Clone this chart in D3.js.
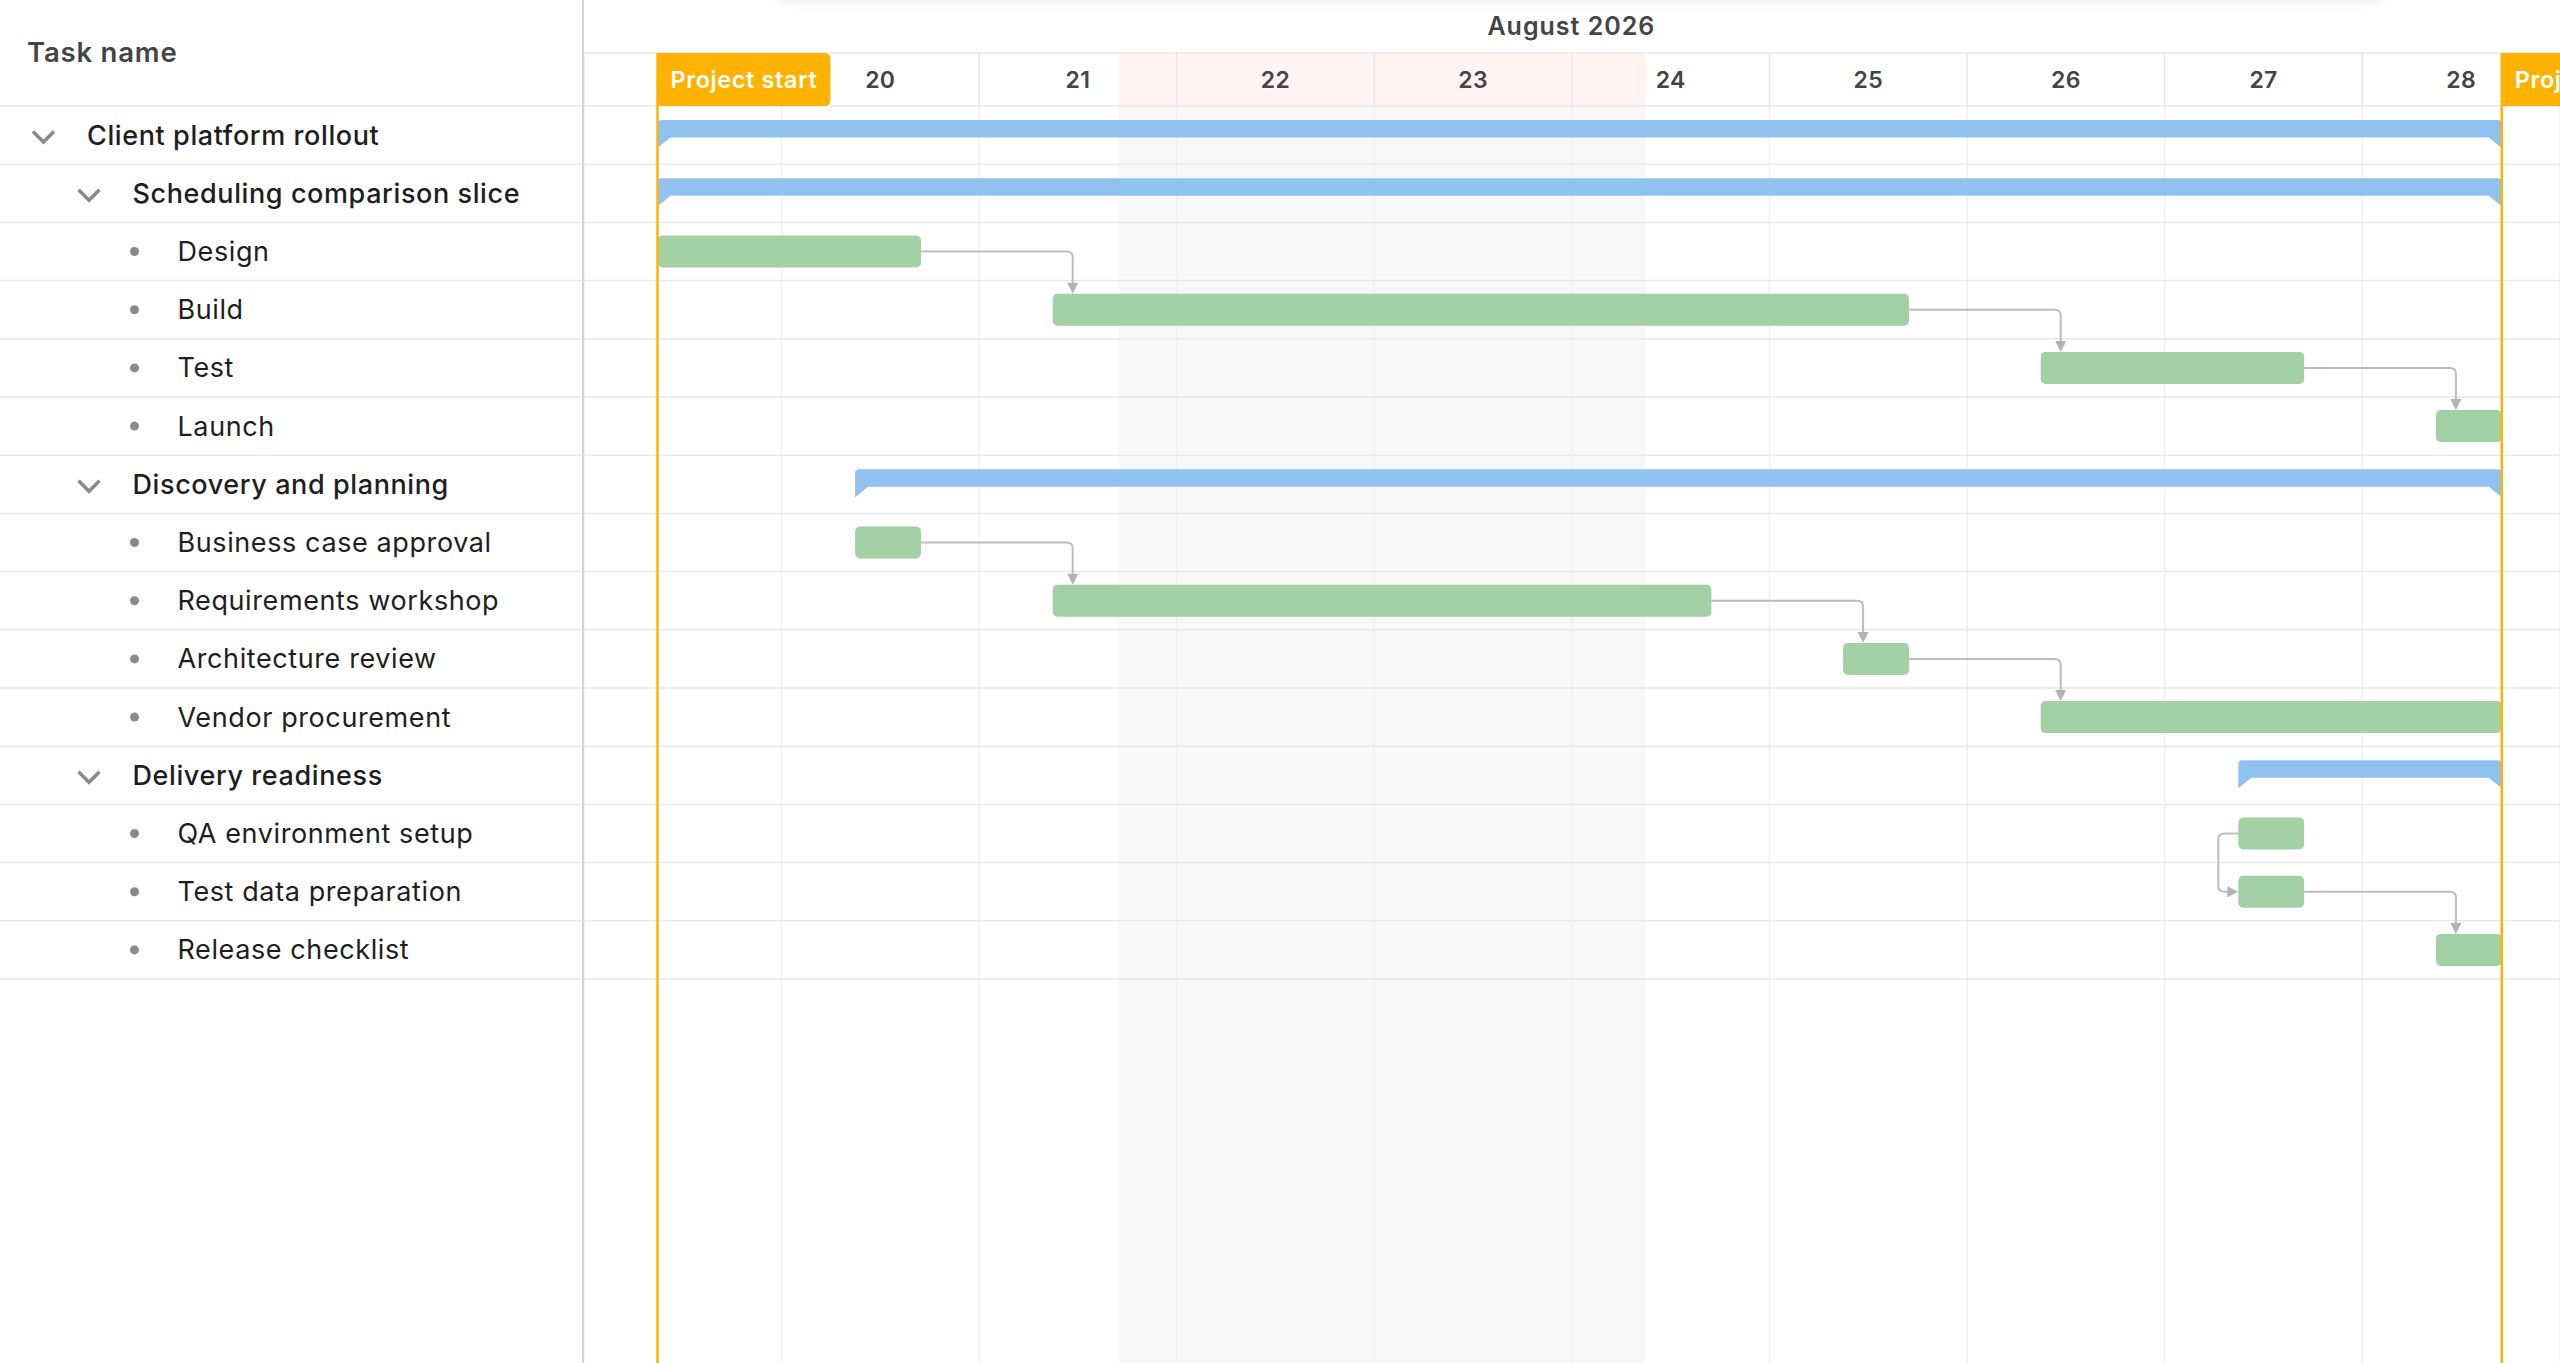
<!DOCTYPE html>
<meta charset="utf-8">
<script src="https://cdn.jsdelivr.net/npm/d3@7"></script>
<style>
  html, body { margin: 0; padding: 0; background: #fff; overflow: hidden; }
  svg { display: block; font-family: "Inter", "Open Sans", sans-serif; }
</style>
<body>
<div id="gantt"></div>
<script>

// rows of the task tree, top to bottom
var taskNames = ["Client platform rollout", "Scheduling comparison slice", "Design", "Build", "Test", "Launch",
  "Discovery and planning", "Business case approval", "Requirements workshop", "Architecture review", "Vendor procurement",
  "Delivery readiness", "QA environment setup", "Test data preparation", "Release checklist"];
var taskLevels = [0, 1, 2, 2, 2, 2, 1, 2, 2, 2, 2, 1, 2, 2, 2];
var taskStarts = ["2026-08-19T09:00", "2026-08-19T09:00", "2026-08-19T09:00", "2026-08-21T09:00", "2026-08-26T09:00", "2026-08-28T09:00",
  "2026-08-20T09:00", "2026-08-20T09:00", "2026-08-21T09:00", "2026-08-25T09:00", "2026-08-26T09:00",
  "2026-08-27T09:00", "2026-08-27T09:00", "2026-08-27T09:00", "2026-08-28T09:00"];
var taskEnds = ["2026-08-28T17:00", "2026-08-28T17:00", "2026-08-20T17:00", "2026-08-25T17:00", "2026-08-27T17:00", "2026-08-28T17:00",
  "2026-08-28T17:00", "2026-08-20T17:00", "2026-08-24T17:00", "2026-08-25T17:00", "2026-08-28T17:00",
  "2026-08-28T17:00", "2026-08-27T17:00", "2026-08-27T17:00", "2026-08-28T17:00"];

// predecessor, successor, type (FS = finish-to-start, SS = start-to-start)
var dependencies = [
  ["Design", "Build", "FS"], ["Build", "Test", "FS"], ["Test", "Launch", "FS"],
  ["Business case approval", "Requirements workshop", "FS"], ["Requirements workshop", "Architecture review", "FS"],
  ["Architecture review", "Vendor procurement", "FS"],
  ["QA environment setup", "Test data preparation", "SS"], ["Test data preparation", "Release checklist", "FS"]];

// visible range, weekend (non working) span, project markers
var viewRange = ["2026-08-19T00:00", "2026-08-29T00:00"];
var nonWorking = [["2026-08-21T17:00", "2026-08-24T09:00"]];
var markerLabels = ["Project start", "Project end"];
var markerDates = ["2026-08-19T09:00", "2026-08-28T17:00"];

var parse = d3.timeParse("%Y-%m-%dT%H:%M");

var W = 2560, H = 1363;
var gridW = 583, monthH = 53, headerH = 106, rowH = 58.2;
var barH = 32;

var tasks = taskNames.map(function(n, i) {
  return {name: n, level: taskLevels[i], start: parse(taskStarts[i]), end: parse(taskEnds[i]),
          summary: taskLevels[i + 1] > taskLevels[i]};
});
var byName = {};
tasks.forEach(function(t) { byName[t.name] = t; });

var svg = d3.select("#gantt").append("svg")
  .attr("width", W)
  .attr("height", H);

// scales
var x = d3.scaleTime()
  .domain(viewRange.map(parse))
  .range([gridW + 0.4, W - 0.6]);
var y = d3.scaleBand()
  .domain(taskNames)
  .range([headerH, headerH + taskNames.length * rowH]);
var dayW = x(d3.timeDay.offset(x.domain()[0], 1)) - x(x.domain()[0]);
function mid(n) { return y(n) + y.bandwidth() / 2; }

// faint shadow along the top edge
var defs = svg.append("defs");
defs.append("filter").attr("id", "topShadow").attr("x", "-10%").attr("y", "-200%").attr("width", "120%").attr("height", "500%")
  .append("feGaussianBlur").attr("stdDeviation", 9);
svg.append("rect")
  .attr("x", 780).attr("y", -34).attr("width", 1600).attr("height", 30)
  .attr("fill", "#000").attr("opacity", 0.16)
  .attr("filter", "url(#topShadow)");

// non working time
var nw = svg.append("g");
nw.selectAll("rect.head").data(nonWorking).enter().append("rect")
  .attr("x", function(d) { return x(parse(d[0])); })
  .attr("width", function(d) { return x(parse(d[1])) - x(parse(d[0])); })
  .attr("y", monthH).attr("height", headerH - monthH)
  .attr("fill", "#fff4f3");
nw.selectAll("rect.body").data(nonWorking).enter().append("rect")
  .attr("x", function(d) { return x(parse(d[0])); })
  .attr("width", function(d) { return x(parse(d[1])) - x(parse(d[0])); })
  .attr("y", headerH).attr("height", H - headerH)
  .attr("fill", "#f8f8f8");

// body day gridlines
var bodyGrid = svg.append("g")
  .attr("transform", "translate(0," + headerH + ")")
  .call(d3.axisBottom(x).ticks(d3.timeDay.every(1)).tickSize(H - headerH).tickFormat(""));
bodyGrid.select(".domain").remove();
bodyGrid.selectAll("line").attr("stroke", "#f0f0f0").attr("stroke-width", 1.5);

// header day row
var firstMarker = parse(markerDates[0]);
var dayAxis = svg.append("g")
  .attr("transform", "translate(0," + monthH + ")")
  .call(d3.axisBottom(x).ticks(d3.timeDay.every(1)).tickSize(headerH - monthH).tickFormat(d3.timeFormat("%-d")));
dayAxis.select(".domain").remove();
dayAxis.selectAll("line").attr("stroke", "#e8e8e8").attr("stroke-width", 1.5);
// the first day label sits under the "Project start" flag, the last tick only closes the range
dayAxis.selectAll(".tick")
  .filter(function(d) { return +d === +d3.timeDay.floor(firstMarker) || +d >= +x.domain()[1]; })
  .select("text").remove();
dayAxis.selectAll("text")
  .attr("x", dayW / 2)
  .attr("y", (headerH - monthH) / 2)
  .attr("dy", "0.36em")
  .attr("fill", "#444")
  .style("font-family", "Inter, sans-serif")
  .style("font-size", "23px")
  .style("font-weight", 600)
  .style("letter-spacing", "0.3px");

// month label
svg.append("text")
  .attr("x", (x.range()[0] + x.range()[1]) / 2)
  .attr("y", 35)
  .attr("text-anchor", "middle")
  .attr("fill", "#444")
  .style("font-size", "25px")
  .style("font-weight", 600)
  .style("letter-spacing", "1px")
  .text(d3.timeFormat("%B %Y")(x.domain()[0]));

// horizontal lines
svg.append("line")
  .attr("x1", gridW).attr("x2", W).attr("y1", monthH).attr("y2", monthH)
  .attr("stroke", "#e8e8e8").attr("stroke-width", 1.5);
var rowLines = d3.range(taskNames.length + 1).map(function(i) { return headerH + i * rowH; });
svg.append("g").selectAll("line").data(rowLines).enter().append("line")
  .attr("x1", 0).attr("x2", W)
  .attr("y1", function(d) { return d; }).attr("y2", function(d) { return d; })
  .attr("stroke", "#e9e9e9").attr("stroke-width", 1.5);

// left grid divider
svg.append("line")
  .attr("x1", gridW).attr("x2", gridW).attr("y1", 0).attr("y2", H)
  .attr("stroke", "#d4d4d4").attr("stroke-width", 2);

// grid header + tree
svg.append("text")
  .attr("x", 27).attr("y", 62)
  .attr("fill", "#444")
  .style("font-size", "27.5px")
  .style("font-weight", 600)
  .style("letter-spacing", "0.8px")
  .text("Task name");

var indent = 45.5;
var rows = svg.append("g").selectAll("g").data(tasks).enter().append("g")
  .attr("transform", function(d) { return "translate(0," + mid(d.name) + ")"; });
rows.filter(function(d) { return d.summary; }).append("path")
  .attr("d", function(d) {
    var cx = 43.5 + d.level * indent;
    return "M" + (cx - 10.5) + ",-3.5L" + cx + ",7L" + (cx + 10.5) + ",-3.5";
  })
  .attr("fill", "none").attr("stroke", "#8a8a8a").attr("stroke-width", 3.5);
rows.filter(function(d) { return !d.summary; }).append("circle")
  .attr("cx", function(d) { return 43.5 + d.level * indent; })
  .attr("r", 4.5)
  .attr("fill", "#8a8a8a");
rows.append("text")
  .attr("x", function(d) { return d.summary ? 87 + d.level * indent : 87 + d.level * indent - 0.5; })
  .attr("y", 9.5)
  .attr("fill", "#1e1e1e")
  .style("font-size", "27px")
  .style("letter-spacing", "0.6px")
  .style("font-weight", function(d) { return d.summary ? 500 : 400; })
  .text(function(d) { return d.name; });

// dependency lines
var r = 6, lead = 20, arrowL = 11, arrowW = 5.5;
var depG = svg.append("g");
dependencies.forEach(function(dep) {
  var a = byName[dep[0]], b = byName[dep[1]];
  var path, arrow, sx, sy, tx, ty;
  if (dep[2] === "FS") {
    sx = x(a.end); sy = mid(a.name);
    tx = x(b.start) + lead; ty = mid(b.name) - barH / 2;
    path = "M" + sx + "," + sy + "H" + (tx - r) + "Q" + tx + "," + sy + " " + tx + "," + (sy + r) + "V" + (ty - arrowL);
    arrow = [[tx - arrowW, ty - arrowL], [tx + arrowW, ty - arrowL], [tx, ty]];
  } else {
    sx = x(a.start); sy = mid(a.name);
    tx = x(b.start); ty = mid(b.name);
    var lx = sx - lead;
    path = "M" + sx + "," + sy + "H" + (lx + r) + "Q" + lx + "," + sy + " " + lx + "," + (sy + r) +
      "V" + (ty - r) + "Q" + lx + "," + ty + " " + (lx + r) + "," + ty + "H" + (tx - arrowL);
    arrow = [[tx - arrowL, ty - arrowW], [tx - arrowL, ty + arrowW], [tx, ty]];
  }
  depG.append("path").attr("d", path)
    .attr("fill", "none").attr("stroke", "#bdbdbd").attr("stroke-width", 2);
  depG.append("polygon").attr("points", arrow.map(function(p) { return p.join(","); }).join(" "))
    .attr("fill", "#b3b3b3");
});

// bars
var bars = svg.append("g");
bars.selectAll("rect").data(tasks.filter(function(d) { return !d.summary; })).enter().append("rect")
  .attr("x", function(d) { return x(d.start); })
  .attr("width", function(d) { return x(d.end) - x(d.start); })
  .attr("y", function(d) { return mid(d.name) - barH / 2; })
  .attr("height", barH)
  .attr("rx", 5)
  .attr("fill", "#a3d0a5");

bars.selectAll("path").data(tasks.filter(function(d) { return d.summary; })).enter().append("path")
  .attr("d", function(d) {
    var x0 = x(d.start), x1 = x(d.end), top = y(d.name) + 14, bot = top + 17.5, tab = top + 28, tw = 13, rr = 4;
    return "M" + x0 + "," + (top + rr) + "Q" + x0 + "," + top + " " + (x0 + rr) + "," + top +
      "H" + (x1 - rr) + "Q" + x1 + "," + top + " " + x1 + "," + (top + rr) +
      "V" + tab + "L" + (x1 - tw) + "," + bot + "H" + (x0 + tw) + "L" + x0 + "," + tab + "Z";
  })
  .attr("fill", "#90c2f0");

// project markers
var markers = svg.append("g").selectAll("g").data(markerLabels).enter().append("g")
  .attr("transform", function(d, i) { return "translate(" + x(parse(markerDates[i])) + ",0)"; });
markers.append("line")
  .attr("y1", monthH).attr("y2", H)
  .attr("stroke", "#ffb300").attr("stroke-width", 2.5);
var labelBg = markers.append("path").attr("fill", "#ffb300");
var labelText = markers.append("text")
  .attr("x", 13).attr("y", (monthH + headerH) / 2)
  .attr("dy", "0.36em")
  .attr("fill", "#fff")
  .style("font-size", "23.5px")
  .style("font-weight", 600)
  .style("letter-spacing", "0.6px")
  .text(function(d) { return d; });
labelBg.attr("d", function(d, i) {
  var w = labelText.nodes()[i].getComputedTextLength() + 26, rr = 6;
  return "M0," + monthH + "H" + (w - rr) + "Q" + w + "," + monthH + " " + w + "," + (monthH + rr) +
    "V" + (headerH - rr) + "Q" + w + "," + headerH + " " + (w - rr) + "," + headerH + "H0Z";
});

</script>
</body>
